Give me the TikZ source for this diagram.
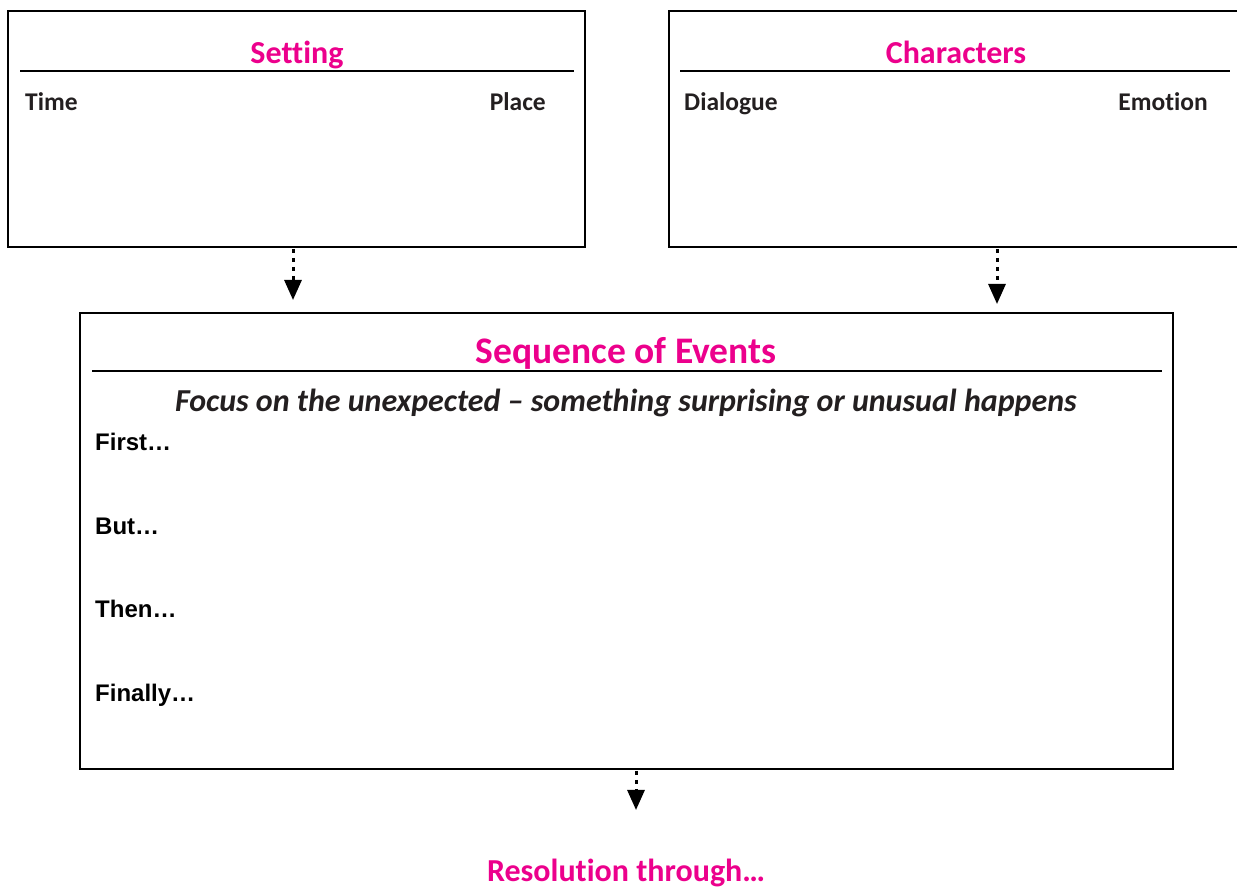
\documentclass[tikz,border=0pt]{standalone}
\usepackage{fontspec}
\setmainfont[Ligatures=NoCommon]{Carlito}
\newfontfamily\arialfont{Liberation Sans}
\usetikzlibrary{arrows.meta}
\definecolor{mag}{HTML}{EC008C}
\definecolor{ink}{HTML}{231F20}
\begin{document}
\begin{tikzpicture}[x=1pt,y=1pt,
  boxframe/.style={draw=black,line width=2.4pt,fill=none},
  sepline/.style={draw=black,line width=1.4pt},
  titletext/.style={text=mag,font=\fontsize{32}{36}\selectfont\bfseries,inner sep=0pt,anchor=base},
  labeltext/.style={text=ink,font=\fontsize{25.5}{30}\selectfont\bfseries,inner sep=0pt},
  steptext/.style={text=black,font=\arialfont\fontsize{24}{28}\selectfont\bfseries,inner sep=0pt,anchor=base west},
  flowarrow/.style={line width=3pt,dash pattern=on 4pt off 5pt,-{Triangle[width=17pt,length=20pt]}}
]
\useasboundingbox (0,0) rectangle (1237,888);
\begin{scope}
\clip (0,0) rectangle (1237,888);
% boxes
\draw[boxframe] (8,641) rectangle (585,877);
\draw[boxframe] (669,641) rectangle (1250,877);
\draw[boxframe] (80,119) rectangle (1173,575);
\end{scope}
\coordinate (setS) at (293,639);
\coordinate (setE) at (293,588);
\coordinate (chaS) at (997,639);
\coordinate (chaE) at (997,584);
\coordinate (seqS) at (636,117);
\coordinate (seqE) at (636,78);
% separators
\draw[sepline] (20,817) -- (574,817);
\draw[sepline] (680,817) -- (1230,817);
\draw[sepline] (92,517) -- (1162,517);
% titles
\node[titletext] (settitle) at (297,824) {Setting};
\node[titletext] (chatitle) at (956,824) {Characters};
\node[titletext,font=\fontsize{37.5}{42}\selectfont\bfseries] (seqtitle) at (626,524) {Sequence of Events};
\node[titletext] (restitle) at (626,6.5) {Resolution through…};
% labels
\node[labeltext,anchor=base west] (time) at (25,777) {Time};
\node[labeltext,anchor=base east] (place) at (546,777) {Place};
\node[labeltext,anchor=base west] (dialogue) at (684,777) {Dialogue};
\node[labeltext,anchor=base east] (emotion) at (1208,777) {Emotion};
\node[labeltext,anchor=base,font=\fontsize{32}{36}\selectfont\bfseries\itshape] (focus) at (626,476) {Focus on the unexpected – something surprising or unusual happens};
\node[steptext] (first) at (95,437) {First…};
\node[steptext] (but) at (95,353) {But…};
\node[steptext] (then) at (95,270) {Then…};
\node[steptext] (finally) at (95,186) {Finally…};
% arrows
\draw[flowarrow] (setS) -- (setE);
\draw[flowarrow] (chaS) -- (chaE);
\draw[flowarrow] (seqS) -- (seqE);
\end{tikzpicture}
\end{document}
